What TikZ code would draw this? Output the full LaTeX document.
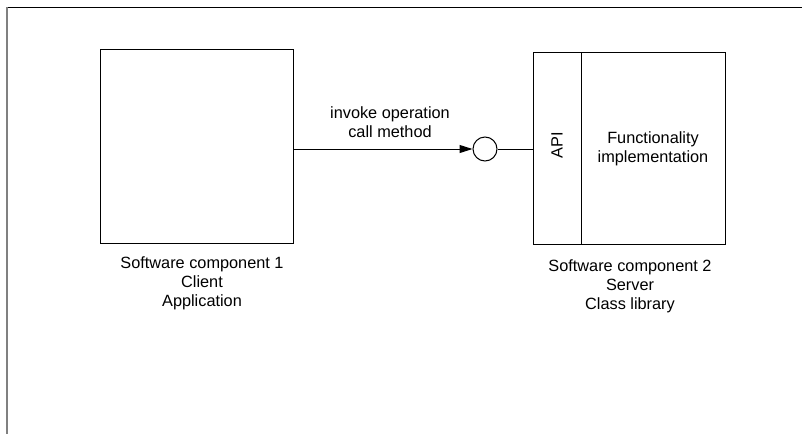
\documentclass[tikz,border=0pt]{standalone}
\usepackage{fontspec}
\setmainfont{Liberation Sans}
\usetikzlibrary{arrows.meta}
\begin{document}
\begin{tikzpicture}[x=1pt,y=-1pt,
  boxst/.style={draw=black,line width=1pt,inner sep=0pt,anchor=north west},
  lbl/.style={align=center,font=\fontsize{16.3}{18.8}\selectfont,inner sep=0pt},
  conn/.style={line width=1pt}]
\useasboundingbox (0,0) rectangle (803,434);
% frame
\draw[line width=1pt] (7,7.5) -- (802,7.5);
\draw[line width=1.8pt,gray] (7,7) -- (7,434);
% client box
\node[boxst,minimum width=193pt,minimum height=194pt] (client) at (100,49) {};
% server boxes
\node[boxst,minimum width=48.5pt,minimum height=192pt] (api) at (532.5,52) {};
\node[boxst,minimum width=144pt,minimum height=192pt] (func) at (581,52) {};
\node[lbl,rotate=90] (apit) at (557,145) {API};
\node[lbl] (funct) at (653,149) {Functionality\\implementation};
% interface circle
\node[draw,circle,line width=1pt,minimum size=24pt,inner sep=0pt] (iface) at (485,149) {};
% connectors
\draw[conn,-{Triangle[length=13pt,width=8pt]}] (client.east |- iface) -- (iface.west);
\draw[conn] (iface.east) -- (api.west |- iface);
% labels
\node[lbl] (msg) at (390,122.5) {invoke operation\\call method};
\node[lbl] (c1) at (202,283) {Software component 1\\Client\\Application};
\node[lbl] (c2) at (630,286) {Software component 2\\Server\\Class library};
\end{tikzpicture}
\end{document}
